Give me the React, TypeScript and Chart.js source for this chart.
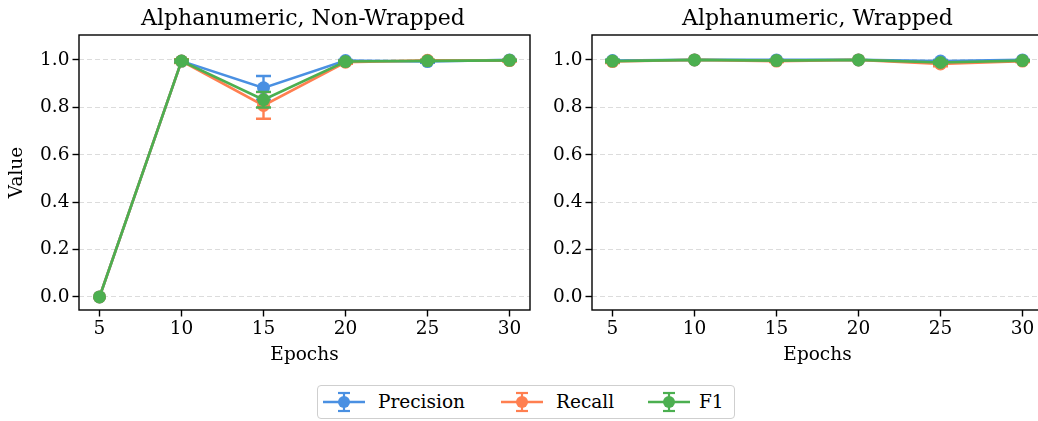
import React, { useEffect, useRef } from "react";
import { Chart, registerables } from "chart.js";

Chart.register(...registerables);

const epochs = [5, 10, 15, 20, 25, 30];
const yTickValues = [0, 0.2, 0.4, 0.6, 0.8, 1.0];
const seriesNames = ["Precision", "Recall", "F1"];
const seriesColors = ["#4a90e2", "#ff7f50", "#4caf50"];
const panelTitles = ["Alphanumeric, Non-Wrapped", "Alphanumeric, Wrapped"];

// Non-wrapped panel
const nonWrappedPrecision = [0, 0.995, 0.882, 0.997, 0.993, 1.0];
const nonWrappedRecall = [0, 0.995, 0.808, 0.99, 0.998, 0.997];
const nonWrappedF1 = [0, 0.995, 0.832, 0.993, 0.996, 0.998];
const nonWrappedPrecisionErr = [0, 0.004, 0.05, 0.003, 0.005, 0.001];
const nonWrappedRecallErr = [0, 0.008, 0.056, 0.006, 0.003, 0.004];
const nonWrappedF1Err = [0, 0.006, 0.033, 0.004, 0.004, 0.002];

// Wrapped panel
const wrappedPrecision = [0.997, 1.0, 1.0, 1.0, 0.995, 1.0];
const wrappedRecall = [0.993, 1.0, 0.995, 1.0, 0.983, 0.995];
const wrappedF1 = [0.995, 1.0, 0.997, 1.0, 0.989, 0.997];
const wrappedPrecisionErr = [0.004, 0, 0.001, 0, 0.005, 0.001];
const wrappedRecallErr = [0.006, 0, 0.004, 0, 0.01, 0.004];
const wrappedF1Err = [0.005, 0, 0.002, 0, 0.007, 0.002];

const FONT = "'DejaVu Serif', serif";
const TICK_SIZE = 18.5;
const TITLE_SIZE = 22;

const errorBarPlugin = {
  id: "errorBars",
  beforeDatasetDraw(chart: any, args: any) {
    const ds = chart.data.datasets[args.index];
    const errs: number[] = ds.errors;
    if (!errs) return;
    const yScale = chart.scales.y;
    const ctx = chart.ctx;
    ctx.save();
    ctx.strokeStyle = ds.borderColor;
    ctx.lineWidth = 2.4;
    args.meta.data.forEach((pt: any, i: number) => {
      const e = errs[i];
      if (!e) return;
      const v = ds.data[i].y;
      const top = yScale.getPixelForValue(v + e);
      const bot = yScale.getPixelForValue(v - e);
      const x = pt.x;
      ctx.beginPath();
      ctx.moveTo(x, top);
      ctx.lineTo(x, bot);
      ctx.moveTo(x - 7.5, top);
      ctx.lineTo(x + 7.5, top);
      ctx.moveTo(x - 7.5, bot);
      ctx.lineTo(x + 7.5, bot);
      ctx.stroke();
    });
    ctx.restore();
  },
};

const spinePlugin = {
  id: "spines",
  afterDatasetsDraw(chart: any) {
    const { left, top, right, bottom } = chart.chartArea;
    const ctx = chart.ctx;
    ctx.save();
    ctx.strokeStyle = "#000";
    ctx.lineWidth = 1.4;
    ctx.strokeRect(left, top, right - left, bottom - top);
    ctx.restore();
  },
};

type PanelProps = {
  left: number;
  yAxisWidth: number;
  padRight: number;
  showYTitle: boolean;
  values: number[][];
  errors: number[][];
};

function Panel({ left, yAxisWidth, padRight, showYTitle, values, errors }: PanelProps) {
  const ref = useRef<HTMLCanvasElement>(null);
  useEffect(() => {
    if (!ref.current) return;
    const orders = [2, 1, 0];
    const chart = new Chart(ref.current, {
      type: "line",
      data: {
        datasets: seriesNames.map((name, s) => ({
          label: name,
          data: epochs.map((x, i) => ({ x, y: values[s][i] })),
          errors: errors[s],
          borderColor: seriesColors[s],
          backgroundColor: seriesColors[s],
          pointBackgroundColor: seriesColors[s],
          pointBorderColor: seriesColors[s],
          pointBorderWidth: 0,
          pointRadius: 6.5,
          borderWidth: 2.6,
          tension: 0,
          order: orders[s],
          clip: false,
        })) as any,
      },
      options: {
        animation: false,
        responsive: false,
        devicePixelRatio: 1,
        layout: { padding: { left: 0, top: 35, right: padRight, bottom: 0 } },
        plugins: { legend: { display: false }, tooltip: { enabled: false }, title: { display: false } },
        scales: {
          x: {
            type: "linear",
            min: 3.75,
            max: 31.25,
            afterBuildTicks: (s: any) => {
              s.ticks = epochs.map((v) => ({ value: v }));
            },
            afterFit: (s: any) => {
              s.height = 60;
            },
            ticks: {
              autoSkip: false,
              maxRotation: 0,
              padding: 2,
              color: "#000",
              font: { family: FONT, size: TICK_SIZE },
              callback: (v: any) => String(v),
            },
            grid: {
              drawOnChartArea: false,
              drawTicks: true,
              tickLength: 6.5,
              tickColor: "#000",
              tickWidth: 1.4,
            },
            border: { display: false },
            title: {
              display: true,
              text: "Epochs",
              color: "#000",
              font: { family: FONT, size: TICK_SIZE },
              padding: { top: 0, bottom: 4 },
            },
          },
          y: {
            type: "linear",
            min: -0.055,
            max: 1.105,
            afterBuildTicks: (s: any) => {
              s.ticks = yTickValues.map((v) => ({ value: v }));
            },
            afterFit: (s: any) => {
              s.width = yAxisWidth;
            },
            ticks: {
              autoSkip: false,
              padding: 3,
              color: "#000",
              font: { family: FONT, size: TICK_SIZE },
              callback: (v: any) => Number(v).toFixed(1),
            },
            grid: {
              drawOnChartArea: true,
              color: "#dcdcdc",
              lineWidth: 1,
              drawTicks: true,
              tickLength: 6.5,
              tickColor: "#000",
              tickWidth: 1.4,
              tickBorderDash: [],
            },
            border: { display: false, dash: [5, 3] },
            title: {
              display: showYTitle,
              text: "Value",
              color: "#000",
              font: { family: FONT, size: TICK_SIZE },
              padding: { top: 6.5, bottom: 0 },
            },
          },
        },
      },
      plugins: [errorBarPlugin, spinePlugin],
    } as any);
    return () => chart.destroy();
  }, []);
  return (
    <canvas
      ref={ref}
      width={560}
      height={370}
      style={{ position: "absolute", left, top: 0, width: 560, height: 370 }}
    />
  );
}

function LegendIcon({ color, left }: { color: string; left: number }) {
  return (
    <svg width={42} height={22} style={{ position: "absolute", left, top: 391 }}>
      <line x1={0} y1={11} x2={42} y2={11} stroke={color} strokeWidth={2.4} />
      <line x1={21} y1={2} x2={21} y2={20} stroke={color} strokeWidth={2.2} />
      <line x1={15} y1={2} x2={27} y2={2} stroke={color} strokeWidth={2.2} />
      <line x1={15} y1={20} x2={27} y2={20} stroke={color} strokeWidth={2.2} />
      <circle cx={21} cy={11} r={6} fill={color} />
    </svg>
  );
}

const legendIconLefts = [323, 501, 648];
const legendTextLefts = [378, 556, 699];

export default function App() {
  const textStyle: React.CSSProperties = {
    position: "absolute",
    fontFamily: FONT,
    color: "#000",
    whiteSpace: "nowrap",
  };
  return (
    <div
      style={{
        position: "fixed",
        left: 0,
        top: 0,
        width: 1038,
        height: 421,
        overflow: "hidden",
        background: "#fff",
      }}
    >
      <Panel
        left={0}
        yAxisWidth={79}
        padRight={30}
        showYTitle={true}
        values={[nonWrappedPrecision, nonWrappedRecall, nonWrappedF1]}
        errors={[nonWrappedPrecisionErr, nonWrappedRecallErr, nonWrappedF1Err]}
      />
      <Panel
        left={512}
        yAxisWidth={80}
        padRight={29}
        showYTitle={false}
        values={[wrappedPrecision, wrappedRecall, wrappedF1]}
        errors={[wrappedPrecisionErr, wrappedRecallErr, wrappedF1Err]}
      />
      <div style={{ ...textStyle, left: 103, width: 400, top: 4.5, fontSize: TITLE_SIZE, lineHeight: "26px", textAlign: "center" }}>
        {panelTitles[0]}
      </div>
      <div style={{ ...textStyle, left: 617.5, width: 400, top: 4.5, fontSize: TITLE_SIZE, lineHeight: "26px", textAlign: "center" }}>
        {panelTitles[1]}
      </div>
      <div
        style={{
          position: "absolute",
          left: 317,
          top: 385,
          width: 418,
          height: 34,
          boxSizing: "border-box",
          border: "1px solid #cfcfcf",
          borderRadius: 4,
          background: "#fff",
        }}
      />
      {seriesNames.map((name, s) => (
        <React.Fragment key={name}>
          <LegendIcon color={seriesColors[s]} left={legendIconLefts[s]} />
          <div style={{ ...textStyle, left: legendTextLefts[s], top: 391, fontSize: TICK_SIZE, lineHeight: "22px" }}>
            {name}
          </div>
        </React.Fragment>
      ))}
    </div>
  );
}
